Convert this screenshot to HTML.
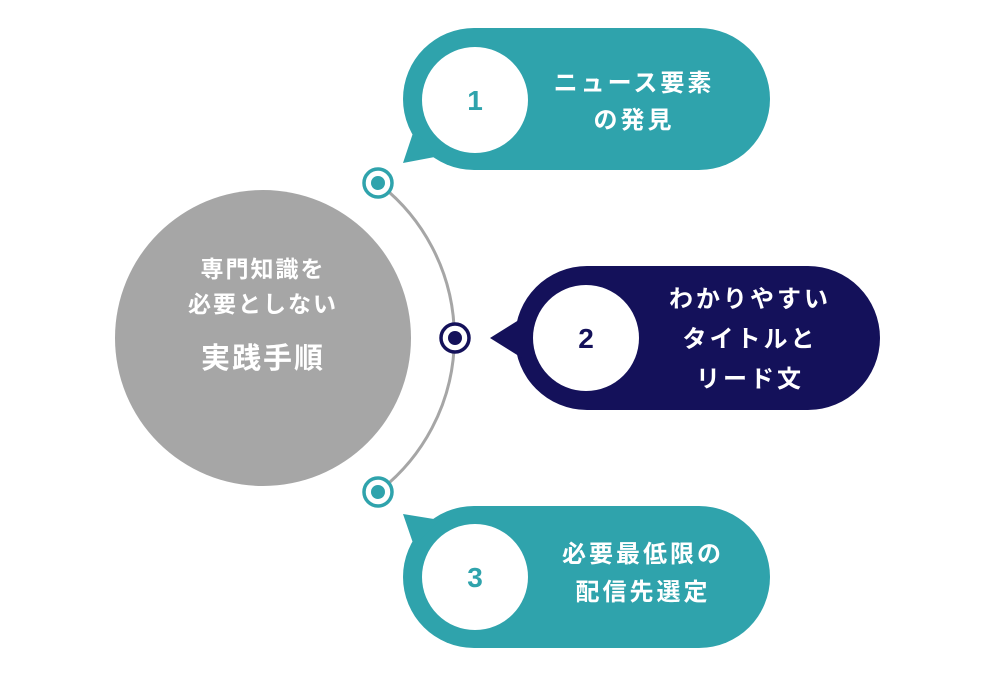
<!DOCTYPE html>
<html><head><meta charset="utf-8"><style>
body{margin:0;background:#fff;}
svg text{font-family:"Liberation Sans","Noto Sans CJK JP",sans-serif;font-weight:bold;}
</style></head><body>
<svg width="1000" height="676" viewBox="0 0 1000 676" xmlns="http://www.w3.org/2000/svg">
<circle cx="263" cy="338" r="148" fill="#a6a6a6"/>
<text x="263" y="277" font-size="23" letter-spacing="2" fill="#fff" text-anchor="middle">専門知識を</text>
<text x="263" y="312" font-size="23" letter-spacing="2" fill="#fff" text-anchor="middle">必要としない</text>
<text x="263" y="368" font-size="29" letter-spacing="2" fill="#fff" text-anchor="middle">実践手順</text>
<path d="M378 183 A194.5 194.5 0 0 1 378 492" fill="none" stroke="#a6a6a6" stroke-width="3"/>
<circle cx="378" cy="183" r="14" fill="#fff" stroke="#2fa3ac" stroke-width="3.5"/>
<circle cx="378" cy="183" r="7" fill="#2fa3ac"/>
<circle cx="455" cy="338" r="14" fill="#fff" stroke="#14115a" stroke-width="3.5"/>
<circle cx="455" cy="338" r="7" fill="#14115a"/>
<circle cx="378" cy="492" r="14" fill="#fff" stroke="#2fa3ac" stroke-width="3.5"/>
<circle cx="378" cy="492" r="7" fill="#2fa3ac"/>
<rect x="403" y="28" width="367" height="142" rx="71" fill="#2fa3ac"/>
<polygon points="414,130 403,163 440,156" fill="#2fa3ac"/>
<circle cx="475" cy="100" r="53" fill="#fff"/>
<text x="475" y="110" font-size="28" fill="#2fa3ac" text-anchor="middle" font-weight="normal">1</text>
<text x="634" y="91" font-size="24" letter-spacing="3" fill="#fff" text-anchor="middle">ニュース要素</text>
<text x="634" y="128" font-size="24" letter-spacing="3" fill="#fff" text-anchor="middle">の発見</text>
<rect x="515" y="266" width="365" height="144" rx="72" fill="#14115a"/>
<polygon points="490,338 522,318 522,358" fill="#14115a"/>
<circle cx="586" cy="338" r="53" fill="#fff"/>
<text x="586" y="348" font-size="28" fill="#14115a" text-anchor="middle">2</text>
<text x="750" y="307" font-size="24" letter-spacing="3" fill="#fff" text-anchor="middle">わかりやすい</text>
<text x="750" y="347" font-size="24" letter-spacing="3" fill="#fff" text-anchor="middle">タイトルと</text>
<text x="750" y="387" font-size="24" letter-spacing="3" fill="#fff" text-anchor="middle">リード文</text>
<rect x="403" y="506" width="367" height="142" rx="71" fill="#2fa3ac"/>
<polygon points="414,546 403,514 440,520" fill="#2fa3ac"/>
<circle cx="475" cy="577" r="53" fill="#fff"/>
<text x="475" y="587" font-size="28" fill="#2fa3ac" text-anchor="middle" font-weight="normal">3</text>
<text x="643" y="562" font-size="24" letter-spacing="3" fill="#fff" text-anchor="middle">必要最低限の</text>
<text x="643" y="600" font-size="24" letter-spacing="3" fill="#fff" text-anchor="middle">配信先選定</text>
</svg>
</body></html>
